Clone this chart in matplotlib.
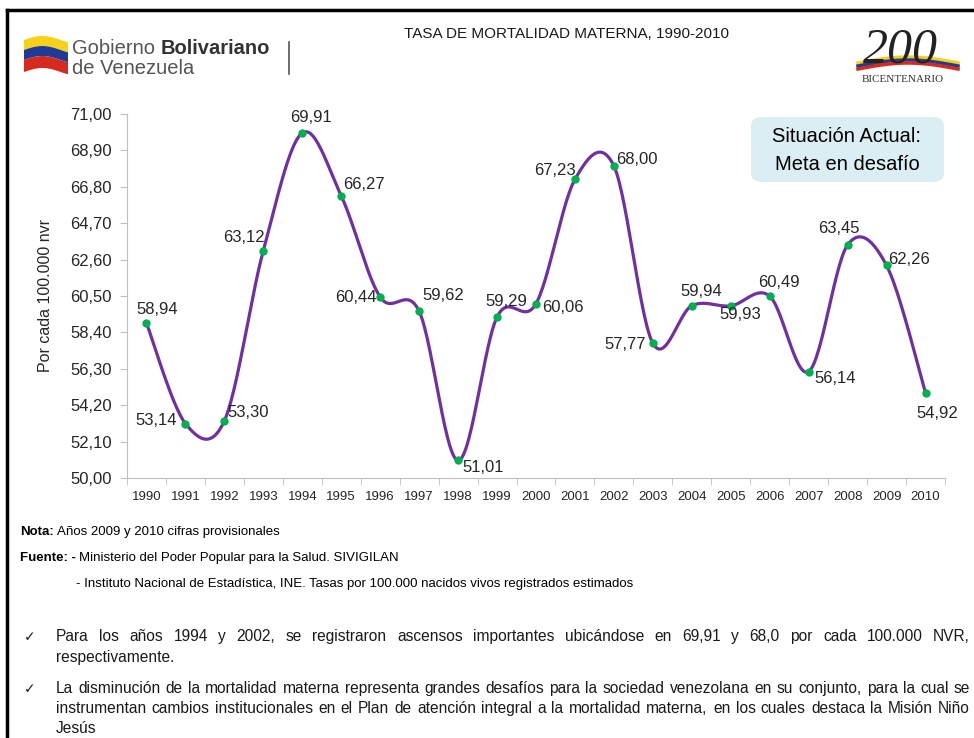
import numpy as np
import matplotlib
matplotlib.use("Agg")
import matplotlib.pyplot as plt
from matplotlib import font_manager
from matplotlib.patches import FancyBboxPatch, Polygon

# datos
years = [str(y) for y in range(1990, 2011)]
tasa = [58.94, 53.14, 53.30, 63.12, 69.91, 66.27, 60.44, 59.62, 51.01, 59.29,
        60.06, 67.23, 68.00, 57.77, 59.94, 59.93, 60.49, 56.14, 63.45, 62.26, 54.92]
yticks = [50.0, 52.1, 54.2, 56.3, 58.4, 60.5, 62.6, 64.7, 66.8, 68.9, 71.0]

# posicion de las etiquetas (pixeles respecto al punto)
offs = [(11, 14), (-29, 3), (24, 8), (-19, 13), (9, 15), (23, 11), (-24, 0),
        (24, 16), (25, -7), (9, 15), (27, -4), (-20, 9), (23, 7), (-28, -1),
        (9, 14), (10, -9), (9, 14), (26, -7), (-9, 16), (22, 6), (12, -21)]

names = {f.name for f in font_manager.fontManager.ttflist}
FONT = "Liberation Sans Narrow" if "Liberation Sans Narrow" in names else "Liberation Sans"
plt.rcParams['font.family'] = [FONT, 'DejaVu Sans']

W, H = 974, 738
fig = plt.figure(figsize=(W / 100, H / 100), dpi=100)


def fx(px):
    return px / W


def fy(py):
    return 1 - py / H


# marco negro
fig.add_artist(plt.Line2D([fx(7), 1], [fy(10), fy(10)], color='black', lw=2.5))
fig.add_artist(plt.Line2D([fx(7), fx(7)], [fy(10), 0], color='black', lw=2.5))

# ---- grafico ----
ax = fig.add_axes([fx(127), fy(478), fx(945) - fx(127), fy(114) - fy(478)])
x = np.arange(len(tasa))
pts = np.array(tasa)

# curva suavizada (bezier tipo Excel)
P = np.concatenate([[pts[0]], pts, [pts[-1]]])
X = np.concatenate([[x[0]], x, [x[-1]]]).astype(float)
cx, cy = [], []
t = np.linspace(0, 1, 30)
for i in range(1, len(P) - 2):
    p0, p1, p2, p3 = P[i - 1], P[i], P[i + 1], P[i + 2]
    q0, q1, q2, q3 = X[i - 1], X[i], X[i + 1], X[i + 2]
    b1y = p1 + (p2 - p0) / 6
    b2y = p2 - (p3 - p1) / 6
    b1x = q1 + (q2 - q0) / 6
    b2x = q2 - (q3 - q1) / 6
    cy.extend((1 - t) ** 3 * p1 + 3 * (1 - t) ** 2 * t * b1y + 3 * (1 - t) * t ** 2 * b2y + t ** 3 * p2)
    cx.extend((1 - t) ** 3 * q1 + 3 * (1 - t) ** 2 * t * b1x + 3 * (1 - t) * t ** 2 * b2x + t ** 3 * q2)
ax.plot(cx, cy, color='#7030A0', lw=2.3, solid_capstyle='round', zorder=2)
ax.plot(x, pts, 'o', color='#00B050', ms=6, mec='none', zorder=3)

for xi, v, (dx, dy) in zip(x, tasa, offs):
    ax.annotate(f"{v:.2f}".replace('.', ','), (xi, v), xytext=(dx, dy),
                textcoords='offset pixels', ha='center', va='center',
                fontsize=12, color='#262626')

ax.set_xlim(-0.5, len(tasa) - 0.5)
ax.set_ylim(50, 71)
ax.set_yticks(yticks)
ax.set_yticklabels([f"{v:.2f}".replace('.', ',') for v in yticks], fontsize=12, color='#262626')
ax.set_xticks(x)
ax.set_xticklabels(years, fontsize=9.5, color='#262626')
ax.set_xticks(np.arange(-0.5, len(tasa)), minor=True)
ax.tick_params(axis='x', which='major', length=0, pad=9)
ax.tick_params(axis='x', which='minor', length=5, color='#BFBFBF', direction='out')
ax.tick_params(axis='y', length=5, color='#BFBFBF', pad=6)
for s in ['top', 'right']:
    ax.spines[s].set_visible(False)
for s in ['left', 'bottom']:
    ax.spines[s].set_color('#BFBFBF')
ax.set_ylabel("Por cada 100.000 nvr", fontsize=11.5, color='#262626', labelpad=12)

# recuadro
box = FancyBboxPatch((fx(751), fy(182)), fx(944) - fx(751), fy(117) - fy(182),
                     boxstyle="round,pad=0,rounding_size=0.012", transform=fig.transFigure,
                     facecolor='#DAEEF3', edgecolor='none')
fig.add_artist(box)
fig.text(fx(847), fy(137), "Situación Actual:", ha='center', va='center', fontsize=14.5)
fig.text(fx(847), fy(165), "Meta en desafío", ha='center', va='center', fontsize=14.5)

# titulo
fig.text(fx(567), fy(34), "TASA DE MORTALIDAD MATERNA, 1990-2010", ha='center', va='center',
         fontsize=11, color='#1a1a1a')

# logo gobierno (aproximado)
flag_x = np.linspace(24, 68, 20)
wave = 4 * np.sin((flag_x - 24) / 44 * np.pi * 1.2)


def band(y0, y1, col):
    top = np.column_stack([fx(flag_x), fy(y0 - wave)])
    bot = np.column_stack([fx(flag_x[::-1]), fy(y1 - wave[::-1])])
    fig.add_artist(Polygon(np.vstack([top, bot]), closed=True, transform=fig.transFigure,
                           facecolor=col, edgecolor='none'))


band(40, 50, '#F7D117')
band(50, 60, '#1F3B98')
band(60, 72, '#D52B1E')
fig.canvas.draw()
r = fig.canvas.get_renderer()
g = fig.text(fx(72), fy(54), "Gobierno ", ha='left', va='baseline', fontsize=14.5,
             color='#555555', family=['Liberation Sans', 'DejaVu Sans'])
gb = g.get_window_extent(r)
fig.text(gb.x1 / W, fy(54), "Bolivariano", ha='left', va='baseline', fontsize=14.5,
         color='#333333', weight='bold', family=['Liberation Sans', 'DejaVu Sans'])
fig.text(fx(72), fy(74), "de Venezuela", ha='left', va='baseline', fontsize=14.5,
         color='#555555', family=['Liberation Sans', 'DejaVu Sans'])
fig.add_artist(plt.Line2D([fx(289), fx(289)], [fy(42), fy(74)], color='#555555', lw=1.2))

# logo bicentenario (aproximado)
fig.text(fx(900), fy(50), "200", ha='center', va='center', fontsize=36, style='italic',
         color='#222222', family=['Liberation Serif', 'DejaVu Serif'])
sx = np.linspace(858, 958, 20)
for off, col in [(0, '#F7D117'), (3, '#1F3B98'), (6, '#D52B1E')]:
    fig.add_artist(plt.Line2D(fx(sx), fy(63 + off - 6 * np.sin((sx - 858) / 100 * np.pi)),
                              color=col, lw=2.5))
fig.text(fx(903), fy(79), "BICENTENARIO", ha='center', va='center', fontsize=8,
         color='#333333', family=['Liberation Serif', 'DejaVu Serif'])

# notas
t1 = fig.text(fx(20), fy(535), "Nota:", ha='left', va='baseline', fontsize=9.5, weight='bold')
bb = t1.get_window_extent(r)
fig.text(bb.x1 / W + 0.003, fy(535), "Años 2009 y 2010 cifras provisionales", ha='left',
         va='baseline', fontsize=9.5)
t2 = fig.text(fx(20), fy(561), "Fuente: -", ha='left', va='baseline', fontsize=9.5, weight='bold')
bb = t2.get_window_extent(r)
fig.text(bb.x1 / W + 0.003, fy(561), "Ministerio del Poder Popular para la Salud. SIVIGILAN",
         ha='left', va='baseline', fontsize=9.5)
fig.text(fx(76), fy(587), "- Instituto Nacional de Estadística, INE. Tasas por 100.000 nacidos vivos registrados estimados",
         ha='left', va='baseline', fontsize=9.5)


# viñetas con texto justificado
def justify(line, y, x0=56, x1=970, just=True, size=11.2):
    words = line.split()
    arts = [fig.text(0, fy(y), w, ha='left', va='baseline', fontsize=size, color='#1a1a1a')
            for w in words]
    widths = [a.get_window_extent(r).width for a in arts]
    if just and len(words) > 1:
        gap = (x1 - x0 - sum(widths)) / (len(words) - 1)
    else:
        gap = size * 0.28
    pos = x0
    for a, w in zip(arts, widths):
        a.set_x(pos / W)
        pos += w + gap


for y in (641, 693):
    fig.text(fx(24), fy(y), "✓", ha='left', va='baseline', fontsize=10,
             family=['DejaVu Sans'], color='#1a1a1a')
justify("Para los años 1994 y 2002, se registraron ascensos importantes ubicándose en 69,91 y 68,0 por cada 100.000 NVR,", 641)
justify("respectivamente.", 662, just=False)
justify("La disminución de la mortalidad materna representa grandes desafíos para la sociedad venezolana en su conjunto, para la cual se", 693)
justify("instrumentan cambios institucionales en el Plan de atención integral a la mortalidad materna, en los cuales destaca la Misión Niño", 713)
justify("Jesús", 733, just=False)

fig.savefig("out.png", dpi=100)
